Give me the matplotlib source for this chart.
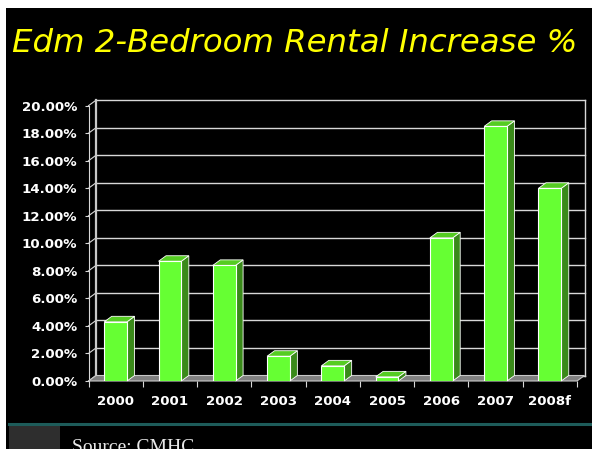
import numpy as np
import matplotlib
matplotlib.use('Agg')
import matplotlib.pyplot as plt
from matplotlib.patches import Polygon, Rectangle

years = ['2000', '2001', '2002', '2003', '2004', '2005', '2006', '2007', '2008f']
increase = [4.3, 8.7, 8.4, 1.8, 1.1, 0.3, 10.4, 18.5, 14.0]
yticks = [0, 2, 4, 6, 8, 10, 12, 14, 16, 18, 20]
ytick_labels = ['%.2f%%' % t for t in yticks]

W, H = 592, 449
fig = plt.figure(figsize=(W / 100, H / 100), dpi=100)
fig.patch.set_facecolor('white')

# black slide area (white margin at top and left)
bg = fig.add_axes([6 / W, 0, 1 - 6 / W, 1 - 8 / H])
bg.set_facecolor('black')
bg.set_xticks([])
bg.set_yticks([])
for s in bg.spines.values():
    s.set_visible(False)

# bottom band
fig.add_artist(plt.Line2D([9 / W, 1], [1 - 423.5 / H, 1 - 423.5 / H], color='#1d5c5a', lw=2.2))
fig.add_artist(Rectangle((9 / W, 0), 51 / W, 1 - 425 / H, transform=fig.transFigure,
                         facecolor='#2e2e2e', edgecolor='none'))
fig.text(72 / W, 1 - 439 / H, 'Source: CMHC', color='#e8e8e8', fontsize=14,
         family='Liberation Serif', va='top', ha='left')

fig.text(12 / W, 1 - 44 / H, 'Edm 2-Bedroom Rental Increase %', color='#ffff00',
         fontsize=23.3, style='italic', va='center', ha='left', family='DejaVu Sans')

# front plane of the chart
x0, x1 = 88.5, 577
y0, y1 = 381, 105.7
ax = fig.add_axes([x0 / W, 1 - y0 / H, (x1 - x0) / W, (y0 - y1) / H])
ax.set_xlim(0, len(years))
ax.set_ylim(0, 20)
ax.patch.set_alpha(0)
for s in ax.spines.values():
    s.set_visible(False)

# depth offset in data units
dx = 7.5 * len(years) / (x1 - x0)
dy = 5.5 * 20 / (y0 - y1)
n = len(years)

# floor
ax.add_patch(Polygon([(0, 0), (n, 0), (n + dx, dy), (dx, dy)], closed=True,
                     facecolor='#808080', edgecolor='#c8c8c8', lw=0.8, clip_on=False, zorder=1))
# back wall gridlines + left diagonals
for t in yticks:
    ax.plot([dx, n + dx], [t + dy, t + dy], color='#d8d8d8', lw=1, clip_on=False, zorder=0.5)
    ax.plot([0, dx], [t, t + dy], color='#d8d8d8', lw=0.8, clip_on=False, zorder=0.5)
ax.plot([dx, dx], [dy, 20 + dy], color='#c8c8c8', lw=1.6, clip_on=False, zorder=0.6)
ax.plot([n + dx, n + dx], [dy, 20 + dy], color='#d8d8d8', lw=1, clip_on=False, zorder=0.6)
ax.plot([0, 0], [0, 20], color='#d8d8d8', lw=0.8, clip_on=False, zorder=0.6)

# bars
xs = np.arange(n) + 0.5
bw = 0.42
ax.bar(xs, increase, width=bw, color='#66ff33', edgecolor='white', linewidth=0.8, zorder=3)
for x, v in zip(xs, increase):
    r = x + bw / 2
    l = x - bw / 2
    ax.add_patch(Polygon([(r, 0), (r + dx, dy), (r + dx, v + dy), (r, v)], closed=True,
                         facecolor='#3a8a1a', edgecolor='white', lw=0.6, zorder=2.5, clip_on=False))
    ax.add_patch(Polygon([(l, v), (r, v), (r + dx, v + dy), (l + dx, v + dy)], closed=True,
                         facecolor='#55cc22', edgecolor='white', lw=0.6, zorder=2.6, clip_on=False))

# ticks
ax.set_yticks(yticks)
ax.set_yticklabels(ytick_labels)
ax.set_xticks(np.arange(n + 1))
ax.set_xticklabels([''] * (n + 1))
ax.set_xticks(xs, minor=True)
ax.set_xticklabels(years, minor=True)
ax.tick_params(axis='y', colors='#d8d8d8', length=3, width=0.8, pad=5, labelsize=9.6)
ax.tick_params(axis='x', which='major', colors='#d8d8d8', length=4, width=0.8)
ax.tick_params(axis='x', which='minor', length=0, pad=10, labelsize=9.6)
for lab in ax.get_yticklabels() + ax.get_xticklabels(minor=True):
    lab.set_color('white')
    lab.set_fontweight('bold')

fig.savefig('out.png', dpi=100, facecolor=fig.get_facecolor())
